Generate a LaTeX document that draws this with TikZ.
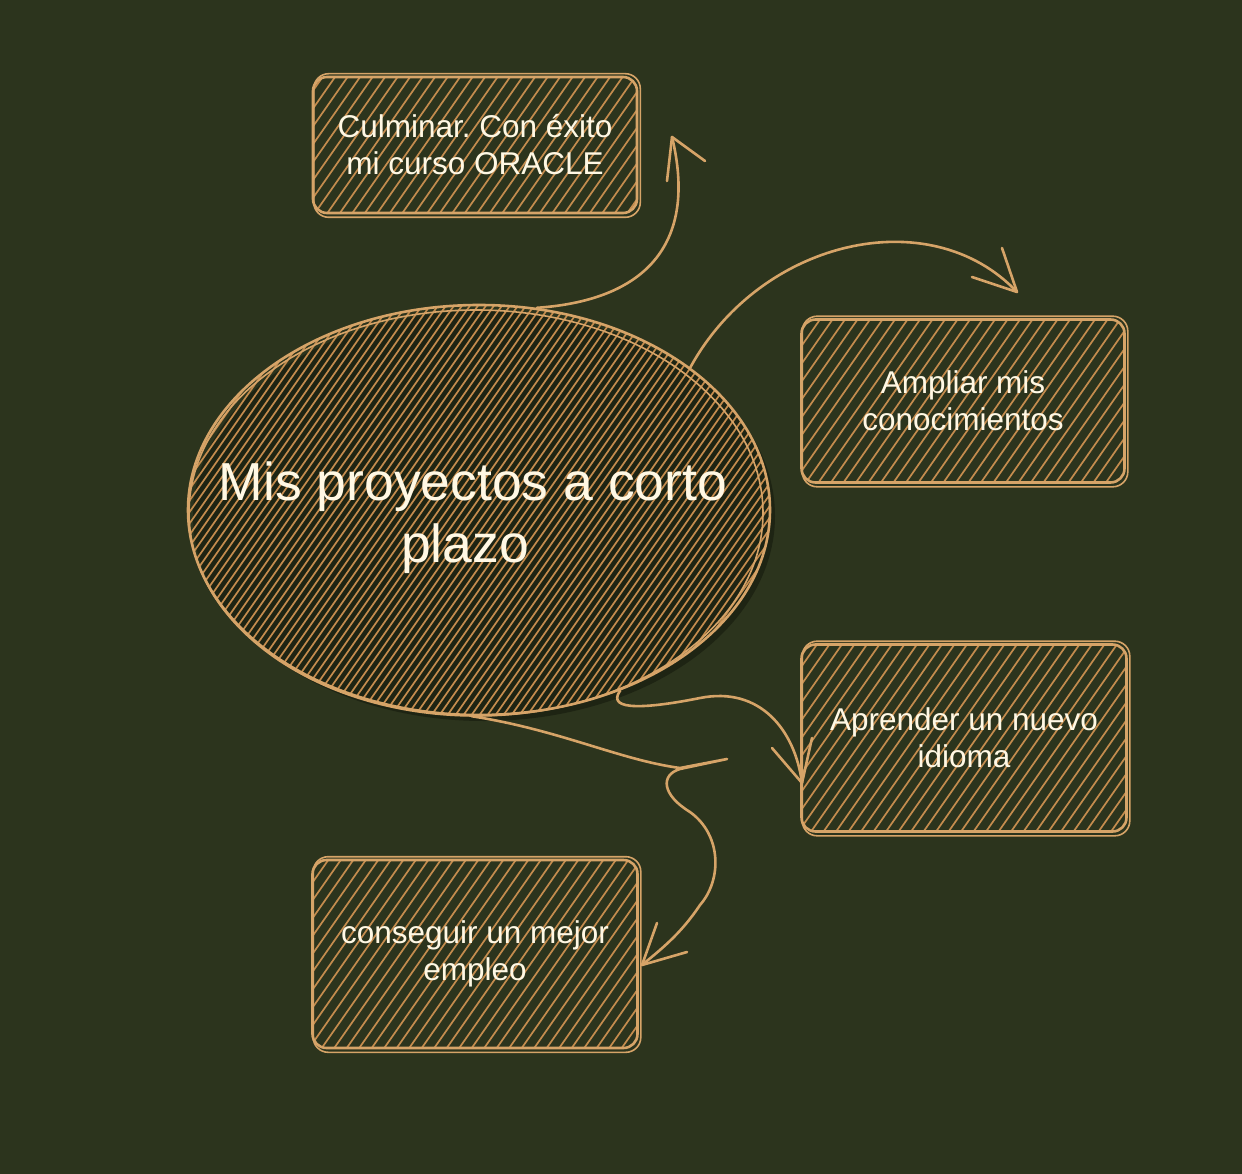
\documentclass[tikz,border=0pt]{standalone}
\usepackage{fontspec}
\setmainfont{Liberation Sans}
\usetikzlibrary{shapes.geometric}
\definecolor{bg}{RGB}{44,52,29}
\definecolor{tanc}{RGB}{214,164,104}
\definecolor{hatchc}{RGB}{196,140,78}
\definecolor{cream}{RGB}{255,248,228}
\definecolor{shadowc}{RGB}{30,36,19}
\frenchspacing
\tikzset{
  hatchline/.style={draw=hatchc, line width=1.7pt},
  hatched/.style 2 args={path picture={
    \foreach \k in {-#1,...,#1}{
      \draw[hatchline] ([xshift=\k*#2]path picture bounding box.center) ++(-170pt,-243pt) -- ++(340pt,486pt);
    }}},
  stroke/.style={draw=tanc, line width=2.6pt, line cap=round, line join=round},
  thin stroke/.style={draw=tanc, line width=1.6pt, line cap=round, line join=round},
  boxnode/.style={stroke, rounded corners=14pt, hatched={36}{12.5pt}, inner sep=0pt,
    text=cream, align=center, font=\fontsize{31.5}{37}\selectfont},
  ellnode/.style={ellipse, stroke, hatched={70}{8pt}, inner sep=0pt},
  bigtext/.style={text=cream, inner sep=0pt, font=\fontsize{53.5}{62}\selectfont},
  conn/.style={stroke},
}
\begin{document}
\begin{tikzpicture}[x=1pt,y=-1pt]
\useasboundingbox (0,0) rectangle (1242,1174);
\fill[bg] (0,0) rectangle (1242,1174);

% shadow of the ellipse
\fill[shadowc] (484,516) ellipse [x radius=291, y radius=205];

% central ellipse
\node[ellnode, minimum width=582pt, minimum height=410pt] (e) at (479,510) {};
\draw[thin stroke] ([shift={(-3,3)}]e.center) ellipse [x radius=287, y radius=203];
\node[bigtext, anchor=base] (et1) at (473,500) {Mis proyectos a corto};
\node[bigtext, anchor=base] (et2) at (465,562) {plazo};

% boxes
\node[boxnode, minimum width=324pt, minimum height=136pt] (b1) at (475,145)
  {Culminar. Con éxito\\mi curso ORACLE};
\node[boxnode, minimum width=323pt, minimum height=163pt] (b2) at (963,401)
  {Ampliar mis\\conocimientos};
\node[boxnode, minimum width=325pt, minimum height=187pt] (b3) at (964,738)
  {Aprender un nuevo\\idioma};
\node[boxnode, minimum width=325pt, minimum height=188pt] (b4) at (475,954)
  {conseguir un mejor\\empleo};

% second sketch strokes of the boxes
\foreach \b in {b1,b2,b3,b4}{
  \draw[thin stroke, rounded corners=15pt] ([shift={(2,-2)}]\b.north west) rectangle ([shift={(2,3)}]\b.south east);
}

% arrow tips (free ends)
\coordinate (t1) at (672,137);
\coordinate (t2) at (1017,292);
\coordinate (t3) at (802,783);
\coordinate (t4) at (642,965);

% arrow 1 : to Culminar
\draw[conn] (e.74) .. controls (650,300) and (697,240) .. (t1);
\draw[conn] (t1) -- ++(-5,44);
\draw[conn] (t1) -- ++(33,24);

% arrow 2 : to Ampliar
\draw[conn] (e.34) .. controls (760,240) and (930,200) .. (t2);
\draw[conn] (t2) -- ++(-15,-44);
\draw[conn] (t2) -- ++(-45,-15);

% arrow 3 : to Aprender
\draw[conn] (e.-52) .. controls (605,712) and (650,708) .. (700,698)
  .. controls (760,686) and (795,730) .. (t3);
\draw[conn] (t3) -- ++(-30,-35);
\draw[conn] (t3) -- ++(10,-45);

% arrow 4 : to conseguir
\draw[conn] (e.-92) .. controls (560,730) and (620,760) .. (680,768) -- (727,759) -- (680,769)
  .. controls (660,775) and (662,795) .. (690,812)
  .. controls (722,835) and (722,880) .. (700,905)
  .. controls (680,935) and (660,950) .. (t4);
\draw[conn] (t4) -- ++(15,-42);
\draw[conn] (t4) -- ++(45,-13);
\end{tikzpicture}
\end{document}
